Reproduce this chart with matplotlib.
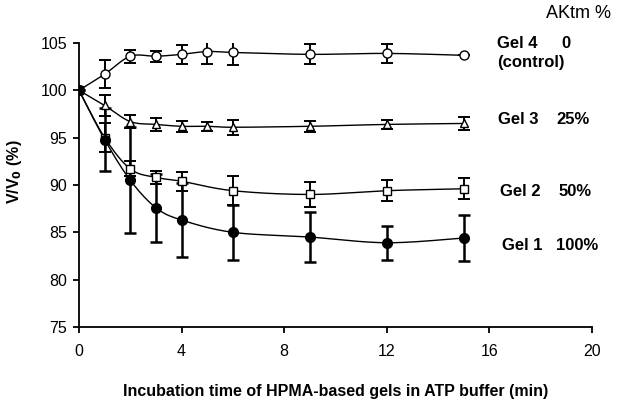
import numpy as np
import matplotlib
matplotlib.use("Agg")
import matplotlib.pyplot as plt

plt.rcParams['font.family'] = ['Liberation Sans', 'DejaVu Sans']

# ---- data ----
t_gel4 = [0, 1, 2, 3, 4, 5, 6, 9, 12, 15]
v_gel4 = [100, 101.7, 103.6, 103.6, 103.8, 104.1, 104.0, 103.8, 103.9, 103.7]
e_gel4 = [0, 1.5, 0.7, 0.6, 1.0, 1.3, 1.3, 1.05, 1.0, 0.0]

t_gel3 = [0, 1, 2, 3, 4, 5, 6, 9, 12, 15]
v_gel3 = [100, 98.4, 96.7, 96.4, 96.2, 96.2, 96.1, 96.2, 96.4, 96.5]
e_gel3 = [0, 1.1, 0.7, 0.7, 0.6, 0.45, 0.8, 0.55, 0.45, 0.7]

t_gel2 = [0, 1, 2, 3, 4, 6, 9, 12, 15]
v_gel2 = [100, 95.0, 91.7, 90.8, 90.4, 89.4, 89.0, 89.4, 89.6]
e_gel2 = [0, 1.5, 0.8, 0.7, 1.0, 1.5, 1.3, 1.1, 1.1]

t_gel1 = [0, 1, 2, 3, 4, 6, 9, 12, 15]
v_gel1 = [100, 94.8, 90.5, 87.6, 86.3, 85.0, 84.5, 83.9, 84.4]
e_gel1 = [0, 3.3, 5.6, 3.6, 3.9, 2.9, 2.6, 1.8, 2.4]

x_ticks = [0, 4, 8, 12, 16, 20]
y_ticks = [75, 80, 85, 90, 95, 100, 105]

# ---- figure ----
W, H = 621, 407
fig = plt.figure(figsize=(W / 100, H / 100), dpi=100)
ax = fig.add_axes([79 / W, 1 - 327 / H, (592 - 79) / W, (327 - 43) / H])
ax.set_xlim(0, 20)
ax.set_ylim(75, 105)

px_x = (592 - 79) / 20.0
px_y = (327 - 43) / 30.0


def smooth(xs, ys, n=30):
    # Catmull-Rom / Bezier smoothing in screen space (like spreadsheet smoothed lines)
    X = np.asarray(xs, float) * px_x
    Y = np.asarray(ys, float) * px_y
    P = np.column_stack([X, Y])
    out = []
    for i in range(len(P) - 1):
        p0 = P[i - 1] if i > 0 else P[i]
        p1 = P[i]
        p2 = P[i + 1]
        p3 = P[i + 2] if i + 2 < len(P) else P[i + 1]
        c1 = p1 + (p2 - p0) / 6.0
        c2 = p2 - (p3 - p1) / 6.0
        s = np.linspace(0, 1, n)[:, None]
        b = ((1 - s) ** 3) * p1 + 3 * ((1 - s) ** 2) * s * c1 + 3 * (1 - s) * s ** 2 * c2 + s ** 3 * p2
        out.append(b if i == 0 else b[1:])
    B = np.vstack(out)
    return B[:, 0] / px_x, B[:, 1] / px_y


series = [
    (t_gel4, v_gel4, e_gel4, 'o', 'white', 1.4, 6.5),
    (t_gel3, v_gel3, e_gel3, '^', 'white', 1.4, 6),
    (t_gel2, v_gel2, e_gel2, 's', 'white', 1.4, 6),
    (t_gel1, v_gel1, e_gel1, 'o', 'black', 1.8, 7),
]

for t, v, e, m, fc, elw, ms in series:
    sx, sy = smooth(t, v)
    ax.plot(sx, sy, color='black', lw=1.0, zorder=2)
    ax.errorbar(t, v, yerr=e, fmt='none', ecolor='black', elinewidth=elw,
                capsize=4.5, capthick=elw, zorder=3)
    ax.plot(t, v, linestyle='none', marker=m, markersize=ms,
            markerfacecolor=fc, markeredgecolor='black', markeredgewidth=1.0, zorder=4)

ax.set_xticks(x_ticks)
ax.set_yticks(y_ticks)
ax.spines['top'].set_visible(False)
ax.spines['right'].set_visible(False)
for s in ['left', 'bottom']:
    ax.spines[s].set_linewidth(1.3)
ax.tick_params(direction='out', length=4.5, width=1.3, labelsize=11.5, pad=4)
ax.tick_params(axis='x', pad=8)

ax.set_xlabel('Incubation time of HPMA-based gels in ATP buffer (min)',
              fontsize=11.5, fontweight='bold', labelpad=18)


def ftext(x, y, s, **kw):
    kw.setdefault('va', 'center')
    fig.text(x / W, 1 - y / H, s, **kw)


ftext(14, 172, 'V/V$_\\mathbf{0}$ (%)', ha='center', rotation=90,
      fontsize=11.5, fontweight='bold')

fs = 12
ftext(579, 14, 'AKtm %', ha='center', fontsize=13)
ftext(497, 44, 'Gel 4', ha='left', fontsize=fs, fontweight='bold')
ftext(571, 44, '0', ha='right', fontsize=fs, fontweight='bold')
ftext(497, 63, '(control)', ha='left', fontsize=fs, fontweight='bold')
ftext(498, 120, 'Gel 3', ha='left', fontsize=fs, fontweight='bold')
ftext(590, 120, '25%', ha='right', fontsize=fs, fontweight='bold')
ftext(500, 191, 'Gel 2', ha='left', fontsize=fs, fontweight='bold')
ftext(592, 191, '50%', ha='right', fontsize=fs, fontweight='bold')
ftext(502, 245, 'Gel 1', ha='left', fontsize=fs, fontweight='bold')
ftext(598, 245, '100%', ha='right', fontsize=fs, fontweight='bold')

fig.savefig('out.png', dpi=100)
